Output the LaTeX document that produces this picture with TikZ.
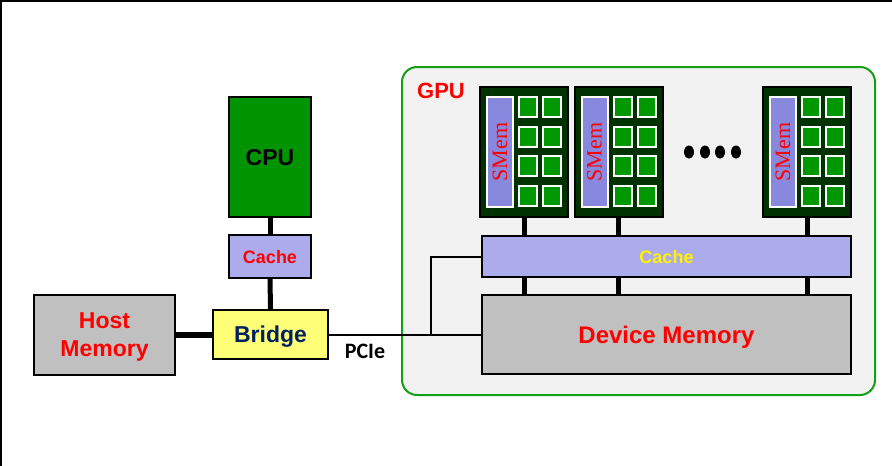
\documentclass[tikz,border=0pt]{standalone}
\usepackage{fontspec}
\setmainfont{Liberation Sans}
\newfontfamily\smemfont{Liberation Serif}
\newfontfamily\pciefont{Carlito}
\usetikzlibrary{shapes.geometric}
\definecolor{cpugreen}{RGB}{0,148,0}
\definecolor{lav}{RGB}{172,172,236}
\definecolor{bridgey}{RGB}{255,255,120}
\definecolor{memgray}{RGB}{192,192,192}
\definecolor{smgreen}{RGB}{0,50,0}
\definecolor{smempurple}{RGB}{136,136,222}
\definecolor{coregreen}{RGB}{0,152,0}
\definecolor{gpubg}{RGB}{242,242,242}
\definecolor{gpuborder}{RGB}{20,160,20}
\definecolor{navy}{RGB}{0,32,96}
\tikzset{
  box/.style={draw=black, line width=2.2pt, inner sep=0pt, align=center, text depth=0pt, font=\bfseries},
  thickconn/.style={line width=5pt},
  thinconn/.style={line width=2pt},
  smbox/.style={draw=black, line width=2pt, fill=smgreen, minimum width=88pt, minimum height=130pt, inner sep=0pt},
  smembox/.style={draw=white, line width=2pt, fill=smempurple, minimum width=26pt, minimum height=110pt, inner sep=0pt},
  corebox/.style={draw=white, line width=2pt, fill=coregreen, minimum width=18pt, minimum height=20pt, inner sep=0pt},
  dotnode/.style={ellipse, fill=black, minimum width=10pt, minimum height=13pt, inner sep=0pt}
}
\begin{document}
\begin{tikzpicture}[x=1pt,y=-1pt]
\useasboundingbox (0,0) rectangle (892,466);
\fill[white] (0,0) rectangle (892,466);
\draw[line width=2pt] (0,1) -- (892,1);
\draw[line width=2pt] (1,0) -- (1,466);

% GPU container
\node[draw=gpuborder, line width=2pt, fill=gpubg, rounded corners=15pt, minimum width=473pt, minimum height=328pt, inner sep=0pt] (gpu) at (638.5,231) {};
\node[text=red, text depth=0pt, font=\bfseries\fontsize{22}{26}\selectfont] (gpulabel) at (441,91) {GPU};

% host side
\node[box, fill=cpugreen, minimum width=82pt, minimum height=120pt, font=\bfseries\fontsize{23}{27}\selectfont] (cpu) at (270,157) {CPU};
\node[box, fill=lav, minimum width=82pt, minimum height=43pt, text=red, font=\bfseries\fontsize{18}{21}\selectfont] (ccache) at (270,256.5) {Cache};
\node[box, fill=bridgey, minimum width=115pt, minimum height=49pt, text=navy, font=\bfseries\fontsize{23}{27}\selectfont] (bridge) at (270.5,334.5) {Bridge};
\node[box, fill=memgray, minimum width=141pt, minimum height=80pt, text=red, font=\bfseries\fontsize{23}{28}\selectfont] (host) at (104.5,335) {Host\\Memory};

% GPU side
\node[box, fill=lav, minimum width=369pt, minimum height=41pt, text=yellow, font=\bfseries\fontsize{18}{21}\selectfont] (gcache) at (666.5,256.5) {Cache};
\node[box, fill=memgray, minimum width=369pt, minimum height=79pt, text=red, font=\bfseries\fontsize{24}{28}\selectfont] (dmem) at (666.5,334.5) {Device Memory};

\foreach \n/\x in {1/524,2/618.5,3/807}{
  \node[smbox] (sm\n) at (\x,152) {};
  \node[smembox] (smem\n) at (\x-24,152) {};
  \node[text=red, rotate=90, font=\smemfont\fontsize{22}{25}\selectfont, inner sep=0pt] (smemlbl\n) at (\x-24,152) {SMem};
  \foreach \r/\y in {1/107,2/137,3/166,4/196}{
    \node[corebox] (core\n a\r) at (\x+4,\y) {};
    \node[corebox] (core\n b\r) at (\x+28,\y) {};
  }
  \draw[thickconn] (sm\n.south) -- (sm\n.south |- gcache.north);
  \draw[thickconn] (sm\n.south |- gcache.south) -- (sm\n.south |- dmem.north);
}

\node[dotnode] (d1) at (689,152) {};
\node[dotnode] (d2) at (705,152) {};
\node[dotnode] (d3) at (720,152) {};
\node[dotnode] (d4) at (736,152) {};

% connectors
\draw[thickconn] (cpu.south) -- (ccache.north);
\draw[thickconn] (ccache.south) -- (bridge.north);
\draw[line width=6pt] (host.east) -- (host.east -| bridge.west);
\draw[thinconn] (bridge.east) -- (dmem.west);
\coordinate (branch) at (431,334.5);
\draw[thinconn] (branch) |- (gcache.west);
\node[font=\pciefont\bfseries\fontsize{22}{26}\selectfont] (pcie) at (365,351) {PCIe};
\end{tikzpicture}
\end{document}
